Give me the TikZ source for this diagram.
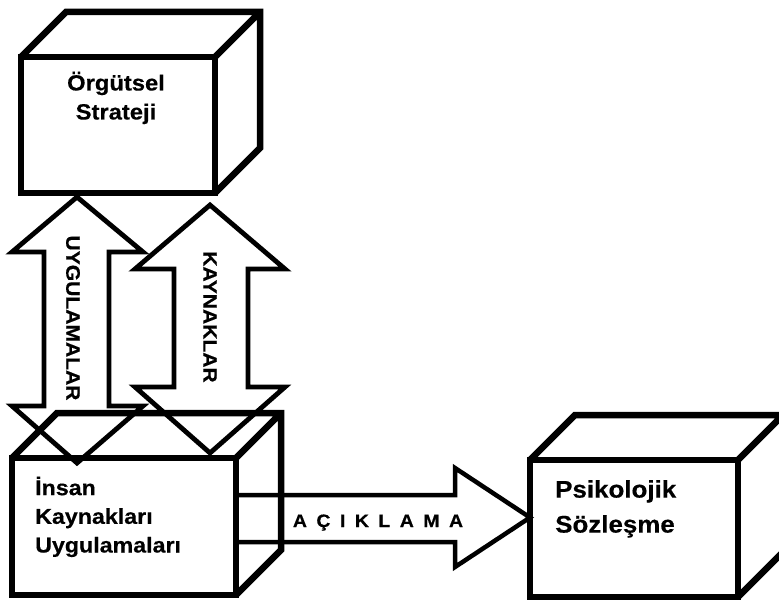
\documentclass[tikz,border=0pt]{standalone}
\usepackage{fontspec}
\setmainfont{Liberation Sans}
\newfontfamily\widebold{Liberation Sans Bold}[FakeStretch=1.08,FakeBold=0.4]
\usetikzlibrary{calc}

\begin{document}
\begin{tikzpicture}[x=1pt,y=-1pt,
                boxface/.style={draw,line width=6.5pt,inner sep=0pt,outer sep=0pt},
                boxedge/.style={line width=6.5pt},
                hollowarrow/.style={draw,line width=4.8pt},
                boxtext/.style={inner sep=0pt,align=left},
                arrowtext/.style={inner sep=0pt,rotate=-90,font=\widebold\fontsize{19.5}{24}\selectfont}
            ]
                \useasboundingbox (0,0) rectangle (779,601);
                \clip (0,0) rectangle (779,601);

                % front faces of the three boxes
                \node[boxface,minimum width=194pt,minimum height=136pt] (strat) at (118,125) {};
                \node[boxface,minimum width=224pt,minimum height=137pt] (ikuyg) at (124,526.5) {};
                \node[boxface,minimum width=208pt,minimum height=137pt] (psik) at (634,528.5) {};

                % top and side faces
                \foreach \b in {strat,ikuyg,psik}
                    \draw[boxedge] (\b.north west) -- ++(45,-45) -| ($(\b.south east)+(45,-45)$) -- (\b.south east)
                        (\b.north east) -- ++(45,-45);

                % box texts
                \node[boxtext,align=center,anchor=north,font=\widebold\fontsize{22}{29}\selectfont] (strattext) at (116,71.5) {Örgütsel\\Strateji};
                \node[boxtext,anchor=north west,font=\widebold\fontsize{21.5}{28.7}\selectfont] (ikuygtext) at (35,476.5) {İnsan\\Kaynakları\\Uygulamaları};
                \node[boxtext,anchor=north west,font=\widebold\fontsize{24}{35}\selectfont] (psiktext) at (555,480) {Psikolojik\\Sözleşme};

                % double arrows between strategy and practices
                \coordinate (uygtop) at (77,197);
                \coordinate (uygbot) at (77,463);
                \draw[hollowarrow] (uygtop) -- (143,252) -- (109,252) -- (109,406) -- (143,406) -- (uygbot)
                    -- (12,406) -- (44,406) -- (44,252) -- (12,252) -- cycle;
                \node[arrowtext] (uygtext) at (73,318) {UYGULAMALAR};

                \coordinate (kaytop) at (210,205);
                \coordinate (kaybot) at (210,453);
                \draw[hollowarrow] (kaytop) -- (285,269) -- (248,269) -- (248,387) -- (285,387) -- (kaybot)
                    -- (135,387) -- (174,387) -- (174,269) -- (135,269) -- cycle;
                \node[arrowtext] (kaytext) at (210,317) {KAYNAKLAR};

                % explanation arrow
                \coordinate (acktip) at (530,517.5);
                \draw[hollowarrow,line width=4.5pt] (ikuyg.east |- 0,495) -- (455,495) -- (455,468) -- (acktip)
                    -- (455,567) -- (455,542) -- (ikuyg.east |- 0,542);
                \node[inner sep=0pt,anchor=base,font=\widebold\fontsize{18}{22}\selectfont] (acktext) at (378,527)
                    {\spaceskip=9.5pt A Ç I K L A M A};
            \end{tikzpicture}
\end{document}
